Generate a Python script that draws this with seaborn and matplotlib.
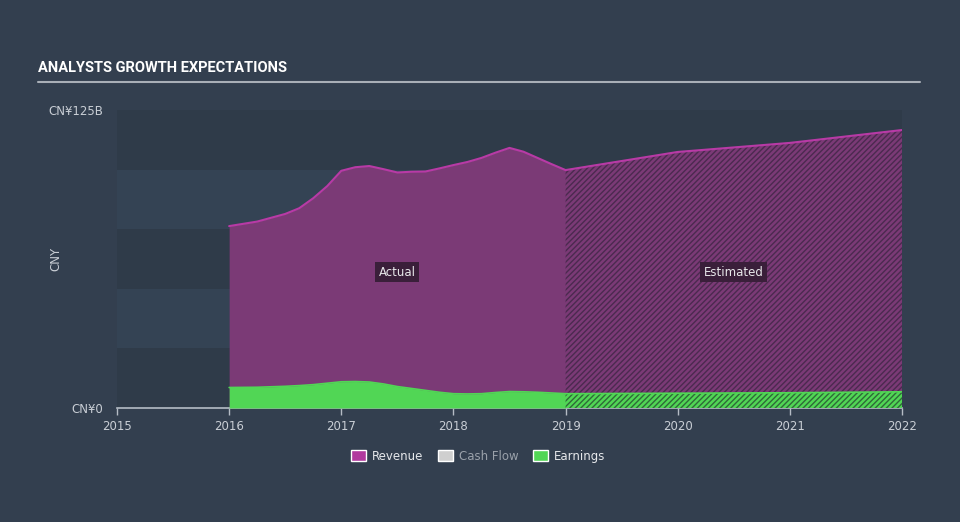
import numpy as np
import pandas as pd
import seaborn as sns
import matplotlib.pyplot as plt
from matplotlib.patches import Patch

# values in CN¥ billions
actual_years = [2016.0, 2016.25, 2016.5, 2016.625, 2016.75, 2016.875, 2017.0, 2017.125,
                2017.25, 2017.375, 2017.5, 2017.625, 2017.75, 2017.875, 2018.0, 2018.125,
                2018.25, 2018.375, 2018.5, 2018.625, 2018.75, 2018.875, 2019.0]
actual_revenue = [76.3, 78.2, 81.4, 83.8, 88.0, 93.1, 99.5, 101.0,
                  101.5, 100.2, 98.8, 99.1, 99.2, 100.5, 101.9, 103.2,
                  104.9, 107.1, 109.1, 107.5, 104.9, 102.3, 99.8]
actual_earnings = [8.6, 8.7, 9.1, 9.4, 9.8, 10.4, 11.0, 11.1,
                   10.9, 10.1, 9.0, 8.2, 7.4, 6.6, 6.0, 5.9,
                   6.0, 6.5, 6.9, 6.8, 6.6, 6.3, 6.0]

est_years = [2019.0, 2020.0, 2021.0, 2022.0]
est_revenue = [99.8, 107.4, 111.2, 116.6]
est_earnings = [6.0, 6.2, 6.4, 6.8]

year_ticks = [2015, 2016, 2017, 2018, 2019, 2020, 2021, 2022]
legend_names = ["Revenue", "Cash Flow", "Earnings"]

BG = "#333f4f"
BAND_DARK = "#2f3b49"
BAND_LIGHT = "#344354"
REV_FILL = "#7b3a76"
REV_LINE = "#b83aa6"
EARN = "#51d655"
TXT = "#c9ced5"

sns.set_style("dark")
plt.rcParams["font.family"] = ["DejaVu Sans"]
plt.rcParams["hatch.linewidth"] = 1.0

fig = plt.figure(figsize=(9.6, 5.22), dpi=100, facecolor=BG)
ax = fig.add_axes([117 / 960, 1 - 408 / 522, (902 - 117) / 960, (408 - 110) / 522])
ax.set_facecolor(BG)

# alternating bands
for i in range(5):
    ax.axhspan(i * 25, (i + 1) * 25, color=BAND_DARK if i % 2 == 0 else BAND_LIGHT, lw=0, zorder=0)

# actual
ax.fill_between(actual_years, 0, actual_revenue, color=REV_FILL, lw=0, zorder=2)
ax.fill_between(actual_years, 0, actual_earnings, color=EARN, lw=0, zorder=3)

# estimated (hatched)
ax.fill_between(est_years, 0, est_revenue, facecolor=REV_FILL, edgecolor="#4b2a4f",
                hatch="//////", lw=0, zorder=2)
ax.fill_between(est_years, 0, est_earnings, facecolor=EARN, edgecolor="#2f6a38",
                hatch="//////", lw=0, zorder=3)

rev = pd.DataFrame({"year": actual_years + est_years[1:], "value": actual_revenue + est_revenue[1:]})
earn = pd.DataFrame({"year": actual_years + est_years[1:], "value": actual_earnings + est_earnings[1:]})
sns.lineplot(data=rev, x="year", y="value", color=REV_LINE, lw=1.5, ax=ax, zorder=4)
sns.lineplot(data=earn, x="year", y="value", color=EARN, lw=1.2, ax=ax, zorder=4)

ax.set_xlim(2015, 2022)
ax.set_ylim(0, 125)
for s in ["top", "right", "left"]:
    ax.spines[s].set_visible(False)
ax.spines["bottom"].set_color("#b5bcc5")
ax.spines["bottom"].set_linewidth(1.2)
ax.grid(False)

ax.set_xticks(year_ticks)
ax.set_xticklabels([str(y) for y in year_ticks])
ax.tick_params(axis="x", colors="#b5bcc5", labelcolor=TXT, labelsize=8.5, length=5, width=1, direction="out", bottom=True)
ax.set_yticks([0, 125])
ax.set_yticklabels(["CN¥0", "CN¥125B"])
ax.tick_params(axis="y", labelcolor=TXT, labelsize=8.5, length=0, pad=10)
ax.set_xlabel("")
ax.set_ylabel("CNY", color=TXT, fontsize=8.5)
ax.yaxis.set_label_coords((62 - 117) / 785, 0.5)

box = dict(boxstyle="square,pad=0.3", facecolor="#3a1f3a", edgecolor="none")
ax.text(2017.5, 57, "Actual", color="#e8e8ea", fontsize=8.5, ha="center", va="center", bbox=box, zorder=6)
ax.text(2020.5, 57, "Estimated", color="#e8e8ea", fontsize=8.5, ha="center", va="center", bbox=box, zorder=6)

# title and rule
fig.text(38 / 960, 1 - 68 / 522, "ANALYSTS GROWTH EXPECTATIONS", color="white", fontsize=10.5,
         fontweight="bold", family=["Roboto", "DejaVu Sans"], va="center", ha="left")
fig.add_artist(plt.Line2D([38 / 960, 920 / 960], [1 - 82 / 522, 1 - 82 / 522], color="#a9afb7", lw=1.5))

handles = [Patch(facecolor="#b1399e"), Patch(facecolor="#cfcfcf"), Patch(facecolor=EARN)]
leg = fig.legend(handles, legend_names, loc="center", bbox_to_anchor=(478 / 960, 1 - 456 / 522), ncol=3,
                 frameon=False, fontsize=8.5, handlelength=1.3, handleheight=1.1, handletextpad=0.5,
                 columnspacing=1.2)
for t, c in zip(leg.get_texts(), ["#e6e8eb", "#9aa1aa", "#e6e8eb"]):
    t.set_color(c)

fig.savefig("out.png", dpi=100, facecolor=BG)
